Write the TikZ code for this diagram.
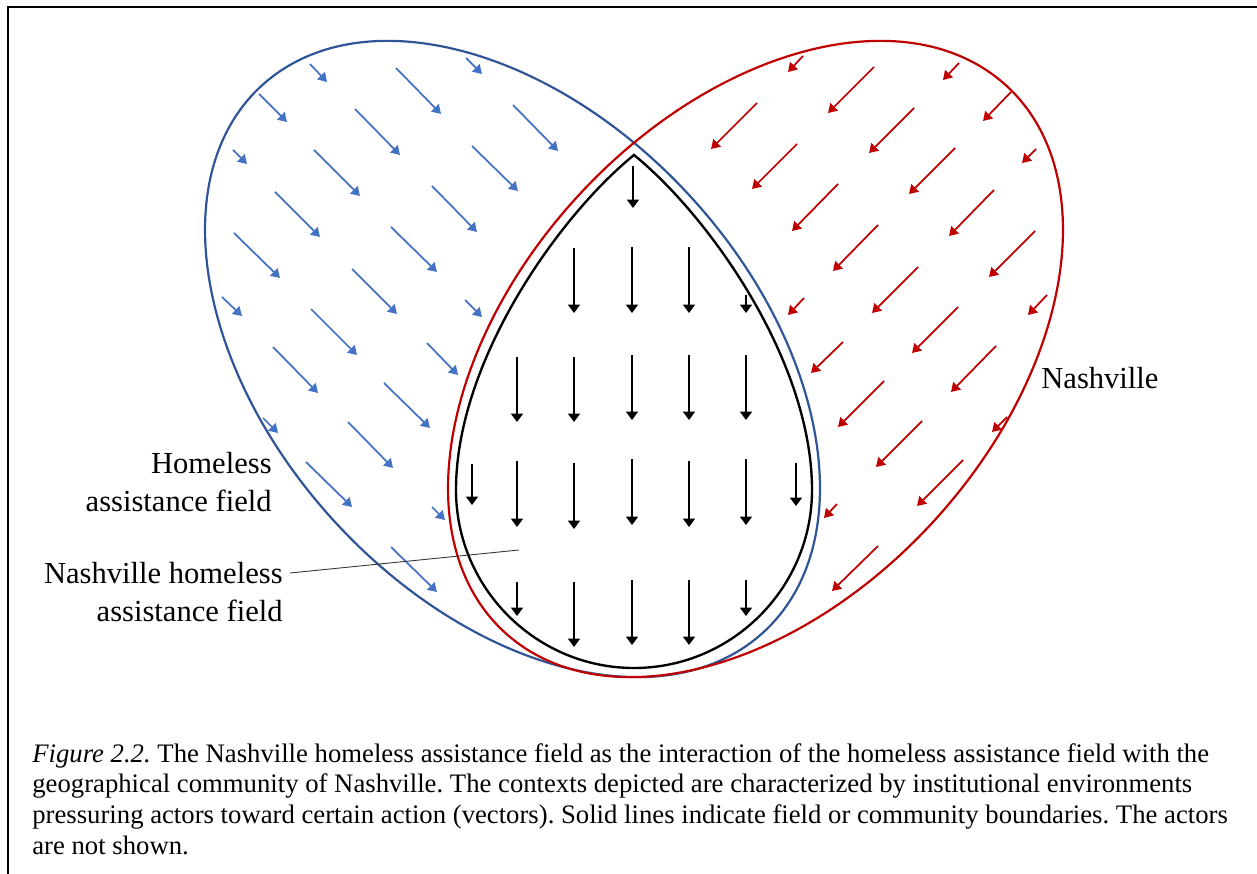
\documentclass[tikz,border=0pt]{standalone}
\usepackage{fontspec}
\setmainfont{Liberation Serif}
\usetikzlibrary{arrows.meta,calc}

\definecolor{fieldblue}{HTML}{2F5597}
\definecolor{vecblue}{HTML}{4472C4}
\definecolor{cityred}{HTML}{C00000}

\tikzset{
  bluevec/.style={vecblue,line width=1pt,-{Triangle[length=5pt,width=6pt]}},
  redvec/.style={cityred,line width=1pt,-{Triangle[length=5pt,width=6pt]}},
  blackvec/.style={black,line width=1.1pt,-{Triangle[length=4.8pt,width=6.8pt]}},
  lbl/.style={font=\fontsize{17.4}{21.4}\selectfont,inner sep=0pt,align=right},
}

\begin{document}
\begin{tikzpicture}[x=0.02cm,y=-0.02cm]
            \useasboundingbox (0,0) rectangle (1257,874);
            % frame
            \draw[line width=1pt] (8,874)--(8,7)--(1257,7);
            % vectors of the homeless assistance field
            \foreach \xa/\ya/\xb/\yb in {310/64/327/82, 396/68/441/114, 466/58/482/74,
                259/94/287/122, 355/109/400/155, 513/105/558/151, 233/150/247/164,
                314/150/360/196, 472/146/518/191, 275/192/320/237, 432/186/477/232,
                234/233/280/278, 391/227/437/272, 222/297/242/316, 352/269/397/314,
                465/300/482/317, 311/309/357/355, 273/347/318/393, 427/343/458/375,
                384/383/430/428, 263/418/278/433, 348/422/393/468, 306/462/352/507,
                432/507/445/520, 391/547/437/592}
                \draw[bluevec] (\xa,\ya)--(\xb,\yb);
            % vectors of Nashville
            \foreach \xa/\ya/\xb/\yb in {803/56/788/72, 874/67/828/113, 959/63/943/80,
                757/103/711/149, 914/108/869/153, 1011/92/983/121, 797/144/752/189,
                955/148/909/194, 1036/149/1022/163, 838/184/792/231, 994/190/949/236,
                878/225/833/271, 1035/231/989/277, 804/298/788/315, 918/267/872/313,
                1047/295/1028/315, 958/307/912/353, 843/342/811/373, 996/346/951/392,
                884/381/838/427, 1007/417/992/432, 922/421/876/467, 837/504/824/518,
                963/460/917/506, 878/546/832/591}
                \draw[redvec] (\xa,\ya)--(\xb,\yb);
            % vectors of the Nashville homeless assistance field
            \foreach \x/\ya/\yb in {633/166/208,
                574/248/313, 632/247/313, 689/247/313, 746/295/313,
                517/357/422, 574/357/422, 632/355/420, 689/355/420, 746/355/420,
                472/464/505, 517/461/527, 574/463/529, 632/459/525, 689/461/527,
                746/459/525, 796/463/506,
                517/582/616, 574/582/647, 632/580/645, 689/580/645, 746/580/616}
                \draw[blackvec] (\x,\ya)--(\x,\yb);
            % boundaries
            \draw[fieldblue,line width=1.25pt,rotate around={-47.4:(512.5,359)}]
                (512.5,359) ellipse (371 and 241);
            \draw[cityred,line width=1.25pt,rotate around={47.4:(755.5,359)}]
                (755.5,359) ellipse (371 and 241);
            \draw[line width=1.35pt] (634,155) .. controls (560,215) and (456,360) .. (456,490)
                .. controls (456,588) and (536,668) .. (634,668)
                .. controls (732,668) and (812,588) .. (812,490)
                .. controls (812,360) and (708,215) .. (634,155) -- cycle;
            % labels
            \node[lbl,anchor=north east] (haf) at (272,452) {Homeless\\assistance field};
            \node[lbl,anchor=north east] (nhaf) at (283,562) {Nashville homeless\\assistance field};
            \node[lbl,anchor=north west] (nash) at (1041,367) {Nashville};
            \coordinate (nhafpt) at (519,550);
            \draw[line width=0.5pt,black!80] ($(nhaf.north east)+(7,11)$)--(nhafpt);
            % caption
            \node[anchor=north west,inner sep=0pt,align=left,font=\fontsize{15.2}{17.5}\selectfont\frenchspacing]
                (cap) at (32,743) {\textit{Figure 2.2.} The Nashville homeless assistance field as the interaction of the homeless assistance field with the\\
                geographical community of Nashville. The contexts depicted are characterized by institutional environments\\
                pressuring actors toward certain action (vectors). Solid lines indicate field or community boundaries. The actors\\
                are not shown.};
\end{tikzpicture}
\end{document}
